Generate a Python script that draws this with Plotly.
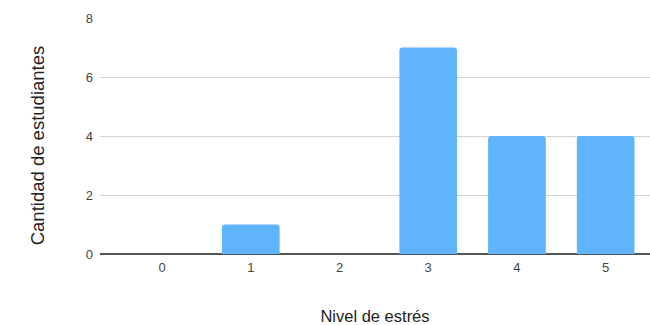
import plotly.graph_objects as go

# Stress level categories and number of students at each level
niveles = ["0", "1", "2", "3", "4", "5"]
estudiantes = [0, 1, 0, 7, 4, 4]
y_ticks = [0, 2, 4, 6, 8]

fig = go.Figure(
    go.Bar(
        x=niveles,
        y=estudiantes,
        marker=dict(color="#5fb4fc", line=dict(width=0)),
        hoverinfo="x+y",
    )
)

fig.update_layout(
    width=650,
    height=325,
    margin=dict(l=100, r=0, t=18, b=71),
    paper_bgcolor="white",
    plot_bgcolor="white",
    bargap=0.35,
    barcornerradius=3,
    showlegend=False,
    font=dict(family="Liberation Sans, Arial, sans-serif", color="#222"),
)

fig.update_xaxes(
    type="category",
    range=[-0.70, 5.50],
    automargin=False,
    showgrid=False,
    showline=False,
    ticks="",
    tickfont=dict(size=13, color="#444"),
    ticklabelstandoff=4,
    title=dict(text="Nivel de estrés", font=dict(size=16.5, color="#222"), standoff=36),
)

fig.update_yaxes(
    range=[0, 8],
    tickvals=y_ticks,
    automargin=False,
    showgrid=True,
    gridcolor="#d3d3d3",
    gridwidth=1,
    zeroline=True,
    zerolinecolor="#555",
    zerolinewidth=1.5,
    ticks="",
    tickfont=dict(size=13, color="#444"),
    ticklabelstandoff=6,
)

# Vertical y-axis title in the left margin, a little below the plot midpoint
fig.add_annotation(
    text="Cantidad de estudiantes",
    textangle=-90,
    xref="paper",
    yref="paper",
    x=-0.113,
    y=0.46,
    showarrow=False,
    xanchor="center",
    yanchor="middle",
    font=dict(size=18.5, color="#222"),
)

fig.write_html("out.html")
